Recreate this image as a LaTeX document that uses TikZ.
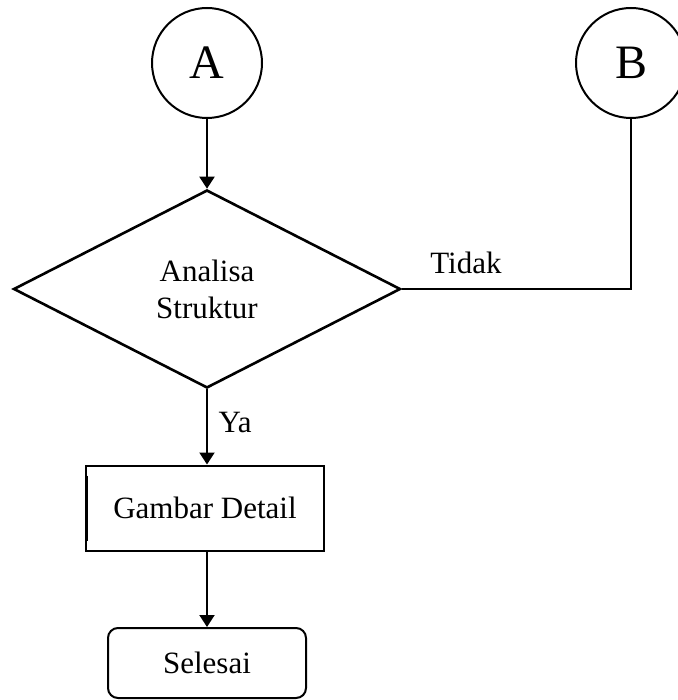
\documentclass[tikz,border=0pt]{standalone}
\usepackage{fontspec}
\setmainfont{Liberation Serif}
\usetikzlibrary{arrows.meta}
\usetikzlibrary{shapes.geometric,calc}

\begin{document}
\begin{tikzpicture}[x=0.5pt,y=-0.5pt,
        >={Triangle[length=6pt,width=7.5pt]},
        line width=1pt,
        font=\fontsize{15.5}{18.5}\selectfont,
        conn/.style={circle,draw,minimum size=55pt,inner sep=0pt,font=\fontsize{24}{28}\selectfont},
        decision/.style={diamond,draw,line width=1.3pt,minimum width=193.5pt,minimum height=99pt,inner sep=0pt,align=center},
        process/.style={rectangle,draw,minimum width=119pt,minimum height=42.5pt,inner sep=0pt},
        terminal/.style={rectangle,rounded corners=5pt,draw,minimum width=99pt,minimum height=35pt,inner sep=0pt}]
        \useasboundingbox (0,0) rectangle (678,700);

        \node[conn] (A) at (207,63) {A};
        \node[conn] (B) at (631,63) {B};
        \node[decision] (analisa) at (207,289) {Analisa\\Struktur};
        \node[process] (gambar) at (205,508) {Gambar Detail};
        \node[terminal] (selesai) at (207,663) {Selesai};

        %\draw (A) -- (analisa);
        \draw[->] (A.south) -- (analisa.north);
        \draw (B.south) |- (analisa.east) node[pos=0.86,above=4pt]{Tidak};
        \draw[->] (analisa.south) -- (gambar.north -| analisa.south) node[pos=0.44,right=2pt](ya){Ya};
        \draw[->] (gambar.south -| selesai.north) -- (selesai.north);

        % thicker left side of the box
        \draw ($(gambar.north west)+(2,11)$) -- ($(gambar.south west)+(2,-11)$);
\end{tikzpicture}
\end{document}
